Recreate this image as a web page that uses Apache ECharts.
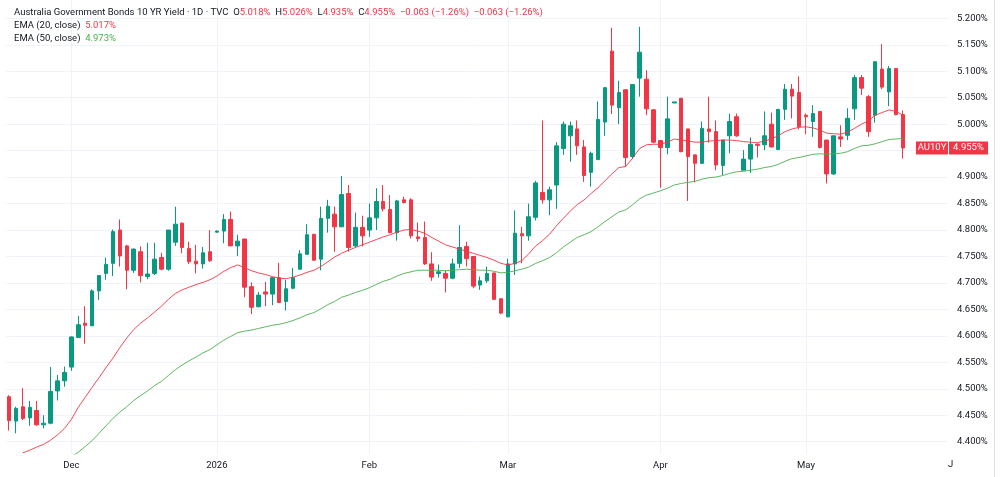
<!DOCTYPE html>
<html>
<head>
<meta charset="utf-8">
<script src="https://cdn.jsdelivr.net/npm/echarts@6/dist/echarts.min.js"></script>
<style>
  html, body { margin: 0; padding: 0; background: #fff; }
  #au10y { width: 1000px; height: 477px; }
</style>
</head>
<body>
<div id="au10y"></div>
<script>
// trading days shown (last 6 are empty future slots on the right)
var dates = [
  '2025-11-18','2025-11-19','2025-11-20','2025-11-21','2025-11-24','2025-11-25','2025-11-26','2025-11-27','2025-11-28',
  '2025-12-01','2025-12-02','2025-12-03','2025-12-04','2025-12-05','2025-12-08','2025-12-09','2025-12-10','2025-12-11','2025-12-12',
  '2025-12-15','2025-12-16','2025-12-17','2025-12-18','2025-12-19','2025-12-22','2025-12-23','2025-12-24','2025-12-29','2025-12-30','2025-12-31',
  '2026-01-01','2026-01-02','2026-01-05','2026-01-06','2026-01-07','2026-01-08','2026-01-09','2026-01-12','2026-01-13','2026-01-14',
  '2026-01-15','2026-01-16','2026-01-19','2026-01-20','2026-01-21','2026-01-22','2026-01-23','2026-01-26','2026-01-27','2026-01-28',
  '2026-01-29','2026-01-30',
  '2026-02-02','2026-02-03','2026-02-04','2026-02-05','2026-02-06','2026-02-09','2026-02-10','2026-02-11','2026-02-12','2026-02-13',
  '2026-02-16','2026-02-17','2026-02-18','2026-02-19','2026-02-20','2026-02-23','2026-02-24','2026-02-25','2026-02-26','2026-02-27',
  '2026-03-02','2026-03-03','2026-03-04','2026-03-05','2026-03-06','2026-03-09','2026-03-10','2026-03-11','2026-03-12','2026-03-13',
  '2026-03-16','2026-03-17','2026-03-18','2026-03-19','2026-03-20','2026-03-23','2026-03-24','2026-03-25','2026-03-26','2026-03-27',
  '2026-03-30','2026-03-31',
  '2026-04-01','2026-04-02','2026-04-06','2026-04-07','2026-04-08','2026-04-09','2026-04-10','2026-04-13','2026-04-14','2026-04-15',
  '2026-04-16','2026-04-17','2026-04-20','2026-04-21','2026-04-22','2026-04-23','2026-04-24','2026-04-27','2026-04-28','2026-04-29',
  '2026-04-30',
  '2026-05-01','2026-05-04','2026-05-05','2026-05-06','2026-05-07','2026-05-08','2026-05-11','2026-05-12','2026-05-13','2026-05-14',
  '2026-05-15','2026-05-18','2026-05-19','2026-05-20','2026-05-21',
  '2026-05-22','2026-05-25','2026-05-26','2026-05-27','2026-05-28','2026-05-29'
];

var opens = [
  4.485,4.439,4.466,4.445,4.459,4.432,4.435,4.496,4.515,4.541,
  4.597,4.624,4.619,4.685,4.718,4.737,4.800,4.770,4.724,4.759,
  4.712,4.718,4.748,4.726,4.777,4.813,4.765,4.741,4.736,4.759,
  4.796,4.798,4.820,4.770,4.783,4.693,4.655,4.683,4.679,4.710,
  4.665,4.690,4.726,4.754,4.792,4.745,4.822,4.830,4.806,4.869,
  4.770,4.805,4.800,4.823,4.854,4.839,4.795,4.857,4.857,4.787,
  4.786,4.736,4.718,4.718,4.709,4.737,4.769,4.750,4.696,4.704,
  4.719,4.670,4.636,4.736,4.793,4.789,4.824,4.871,4.857,4.885,
  4.954,4.978,4.991,4.957,4.909,4.933,5.004,5.138,5.031,5.065,
  4.939,5.087,5.085,5.027,4.969,4.956,5.040,5.049,4.991,4.942,
  4.926,4.991,4.986,4.922,4.978,5.014,4.913,4.934,4.962,4.961,
  5.000,4.952,5.028,5.066,5.060,5.017,5.005,5.024,4.970,4.906,
  4.976,4.979,5.029,5.088,5.052,5.017,5.104,5.061,5.105,5.018
];
var highs = [
  4.488,4.466,4.501,4.477,4.477,4.450,4.541,4.526,4.542,4.599,
  4.638,4.656,4.688,4.715,4.748,4.801,4.820,4.772,4.765,4.769,
  4.776,4.776,4.757,4.800,4.844,4.814,4.778,4.772,4.768,4.800,
  4.799,4.830,4.835,4.791,4.783,4.701,4.683,4.702,4.711,4.738,
  4.706,4.728,4.762,4.811,4.792,4.844,4.857,4.844,4.902,4.885,
  4.833,4.827,4.850,4.879,4.885,4.866,4.857,4.863,4.860,4.814,
  4.816,4.758,4.735,4.724,4.746,4.809,4.778,4.750,4.712,4.731,
  4.719,4.671,4.746,4.837,4.806,4.850,4.893,5.007,4.882,4.966,
  5.005,5.005,5.007,4.970,4.948,5.043,5.069,5.182,5.082,5.066,
  5.075,5.184,5.102,5.029,4.969,5.052,5.042,5.049,4.991,4.942,
  5.005,5.052,5.007,4.970,5.020,5.020,4.951,4.975,4.964,5.024,
  5.022,5.028,5.076,5.076,5.090,5.020,5.036,5.024,4.970,4.978,
  4.998,5.030,5.093,5.093,5.055,5.118,5.151,5.110,5.105,5.026
];
var lows = [
  4.421,4.416,4.441,4.430,4.430,4.425,4.433,4.478,4.504,4.534,
  4.597,4.585,4.619,4.668,4.706,4.713,4.731,4.688,4.719,4.701,
  4.707,4.715,4.724,4.723,4.770,4.756,4.736,4.718,4.727,4.740,
  4.795,4.775,4.770,4.751,4.673,4.641,4.654,4.656,4.658,4.663,
  4.648,4.688,4.725,4.754,4.742,4.724,4.795,4.759,4.806,4.759,
  4.767,4.769,4.787,4.800,4.835,4.794,4.780,4.850,4.784,4.778,
  4.734,4.704,4.710,4.682,4.707,4.728,4.731,4.690,4.687,4.700,
  4.668,4.641,4.635,4.715,4.737,4.780,4.818,4.850,4.828,4.840,
  4.942,4.929,4.942,4.891,4.882,4.933,4.978,5.019,5.000,4.920,
  4.934,5.052,5.017,4.964,4.880,4.943,5.040,4.947,4.855,4.890,
  4.925,4.965,4.913,4.904,4.945,4.976,4.913,4.908,4.937,4.951,
  4.956,4.951,5.008,5.011,4.990,4.981,4.976,4.954,4.888,4.904,
  4.957,4.970,5.008,5.055,4.976,5.003,5.066,5.034,5.017,4.935
];
var closes = [
  4.440,4.463,4.444,4.465,4.432,4.435,4.495,4.515,4.531,4.598,
  4.621,4.620,4.685,4.714,4.735,4.797,4.751,4.724,4.764,4.714,
  4.717,4.745,4.726,4.800,4.811,4.767,4.740,4.736,4.757,4.742,
  4.798,4.820,4.770,4.779,4.692,4.654,4.677,4.679,4.710,4.663,
  4.689,4.710,4.755,4.791,4.743,4.822,4.845,4.806,4.867,4.767,
  4.805,4.789,4.823,4.854,4.840,4.795,4.855,4.852,4.789,4.784,
  4.736,4.711,4.721,4.709,4.736,4.767,4.746,4.694,4.704,4.718,
  4.669,4.643,4.736,4.794,4.789,4.825,4.889,4.857,4.876,4.959,
  5.000,4.997,4.959,4.903,4.945,5.009,5.069,5.036,5.060,4.937,
  5.075,5.136,5.029,4.966,4.956,5.010,5.042,4.948,4.939,4.926,
  4.992,4.986,4.923,4.970,5.005,4.978,4.934,4.962,4.960,4.978,
  4.957,5.028,5.066,5.053,4.995,5.014,5.020,4.956,4.906,4.978,
  4.972,5.011,5.088,5.068,4.986,5.118,5.070,5.105,5.018,4.955
];

// indicator lines (null = below the visible range)
var ema20 = [
  null,null,4.379,4.384,4.390,4.395,4.403,4.413,4.425,4.442,
  4.465,4.484,4.503,4.521,4.540,4.558,4.578,4.596,4.612,4.624,
  4.634,4.645,4.656,4.669,4.680,4.687,4.692,4.697,4.701,4.706,
  4.713,4.722,4.729,4.734,4.729,4.723,4.719,4.716,4.712,4.709,
  4.708,4.711,4.715,4.720,4.724,4.731,4.740,4.749,4.756,4.762,
  4.767,4.772,4.777,4.782,4.787,4.791,4.796,4.800,4.801,4.798,
  4.794,4.786,4.779,4.772,4.768,4.764,4.760,4.756,4.752,4.748,
  4.743,4.737,4.734,4.737,4.742,4.755,4.770,4.780,4.792,4.808,
  4.822,4.836,4.848,4.857,4.869,4.880,4.893,4.906,4.918,4.920,
  4.936,4.954,4.961,4.962,4.962,4.966,4.972,4.970,4.968,4.966,
  4.966,4.968,4.969,4.970,4.970,4.969,4.967,4.966,4.965,4.968,
  4.972,4.978,4.986,4.991,4.994,4.995,4.993,4.989,4.983,4.982,
  4.981,4.985,4.992,5.000,5.006,5.017,5.022,5.027,5.024,5.017
];
var ema50 = [
  null,null,null,null,null,null,null,null,null,4.372,
  4.380,4.391,4.402,4.416,4.430,4.444,4.456,4.466,4.478,4.487,
  4.496,4.506,4.514,4.525,4.536,4.545,4.553,4.560,4.568,4.574,
  4.583,4.592,4.599,4.606,4.609,4.611,4.614,4.617,4.620,4.622,
  4.625,4.629,4.634,4.640,4.644,4.651,4.659,4.665,4.673,4.677,
  4.682,4.686,4.691,4.697,4.703,4.707,4.713,4.718,4.721,4.724,
  4.724,4.724,4.724,4.723,4.724,4.725,4.726,4.725,4.724,4.724,
  4.722,4.719,4.720,4.723,4.726,4.730,4.737,4.742,4.748,4.757,
  4.768,4.777,4.786,4.791,4.797,4.806,4.816,4.825,4.834,4.838,
  4.848,4.859,4.866,4.870,4.874,4.879,4.885,4.888,4.890,4.892,
  4.896,4.899,4.900,4.903,4.907,4.910,4.911,4.913,4.915,4.918,
  4.920,4.924,4.930,4.935,4.937,4.940,4.943,4.944,4.943,4.944,
  4.945,4.948,4.954,4.959,4.960,4.963,4.967,4.971,4.972,4.973
];

var yTicks = [4.40,4.45,4.50,4.55,4.60,4.65,4.70,4.75,4.80,4.85,4.90,4.95,5.00,5.05,5.10,5.15,5.20];
var tickDates = ['2025-12-01','2026-01-01','2026-02-02','2026-03-02','2026-04-01','2026-05-01'];
var tickTexts = ['Dec','2026','Feb','Mar','Apr','May'];

var upColor = '#089981';
var downColor = '#f23645';
var textColor = '#131722';
var gridColor = '#f0f3fa';
var fontName = 'Roboto';

var candles = opens.map(function (o, i) {
  return [o, closes[i], lows[i], highs[i]];
});

var last = closes.length - 1;
function pct(v) { return v.toFixed(3) + '%'; }
function minus(s) { return s.replace('-', '\u2212'); }
var chg = closes[last] - closes[last - 1];
var chgText = minus(chg.toFixed(3)) + ' (' + minus((chg / closes[last - 1] * 100).toFixed(2)) + '%)';

var line1 = 'Australia Government Bonds 10 YR Yield \u00b7 1D \u00b7 TVC  O{r|' + pct(opens[last]) +
  '}  H{r|' + pct(highs[last]) + '}  L{r|' + pct(lows[last]) + '}  C{r|' + pct(closes[last]) +
  '}  {r|' + chgText + '}  {r|' + chgText + '}';
var line2 = 'EMA (20, close)  {r|' + pct(ema20[last]) + '}';
var line3 = 'EMA (50, close)  {g|' + pct(ema50[last]) + '}';

var richStyle = {
  r: { fill: downColor, fontSize: 9.5, fontFamily: fontName },
  g: { fill: '#4caf50', fontSize: 9.5, fontFamily: fontName }
};

function headText(id, y, txt) {
  return {
    type: 'text', id: id, x: 14, y: y, z: 100,
    style: {
      text: txt, fill: textColor, fontSize: 9.5, fontFamily: fontName,
      verticalAlign: 'middle', rich: richStyle
    }
  };
}

var gridLines = yTicks.map(function (v) { return { yAxis: v }; })
  .concat(tickDates.map(function (d) { return { xAxis: d }; }));

var myChart = echarts.init(document.getElementById('au10y'));

var option = {
  animation: false,
  backgroundColor: '#ffffff',
  grid: { left: 5.5, right: 52, top: 0, bottom: 23 },
  xAxis: {
    type: 'category',
    data: dates,
    boundaryGap: true,
    axisLine: { show: false },
    axisTick: { show: false },
    splitLine: { show: false },
    axisLabel: {
      color: textColor,
      fontSize: 9.5,
      fontFamily: fontName,
      margin: 7,
      interval: function (index, value) { return tickDates.indexOf(value) >= 0; },
      formatter: function (value) { return tickTexts[tickDates.indexOf(value)]; }
    }
  },
  yAxis: {
    type: 'value',
    position: 'right',
    min: 4.3768,
    max: 5.2346,
    axisLine: { show: false },
    axisTick: { show: false },
    splitLine: { show: false },
    axisLabel: {
      customValues: yTicks,
      color: textColor,
      fontSize: 9.5,
      fontFamily: fontName,
      margin: 9,
      formatter: function (v) { return v.toFixed(3) + '%'; }
    }
  },
  series: [
    {
      name: 'AU10Y',
      type: 'candlestick',
      data: candles,
      barWidth: 4,
      itemStyle: {
        color: upColor,
        color0: downColor,
        borderColor: upColor,
        borderColor0: downColor,
        borderWidth: 1
      },
      markLine: {
        silent: true,
        symbol: 'none',
        z: 1,
        label: { show: false },
        lineStyle: { color: gridColor, width: 1, type: 'solid' },
        data: gridLines
      }
    },
    {
      name: 'EMA 20',
      type: 'line',
      data: ema20,
      showSymbol: false,
      connectNulls: false,
      lineStyle: { color: '#f23645', width: 1, opacity: 0.9 },
      z: 3
    },
    {
      name: 'EMA 50',
      type: 'line',
      data: ema50,
      showSymbol: false,
      connectNulls: false,
      lineStyle: { color: '#4caf50', width: 1, opacity: 0.9 },
      z: 3
    }
  ],
  graphic: [
    headText('h1', 13, line1),
    headText('h2', 25.5, line2),
    headText('h3', 38.5, line3),
    {
      type: 'text', id: 'jun', x: 948, y: 465,
      style: { text: 'J', fill: textColor, fontSize: 9.5, fontFamily: fontName, verticalAlign: 'middle' }
    },
    {
      // thin frame line on the right edge of the widget
      type: 'line', id: 'frame', z: 100,
      shape: { x1: 994.5, y1: 0, x2: 994.5, y2: 477 },
      style: { stroke: '#e0e3eb', lineWidth: 1 }
    }
  ]
};

myChart.setOption(option);

// last price tags on the price scale
var py = myChart.convertToPixel({ yAxisIndex: 0 }, closes[last]);
myChart.setOption({
  graphic: [
    { type: 'rect', id: 'tagA', z: 100, shape: { x: 916, y: py - 6.5, width: 32, height: 13 }, style: { fill: downColor } },
    { type: 'rect', id: 'tagB', z: 100, shape: { x: 949, y: py - 6.5, width: 39, height: 13 }, style: { fill: downColor } },
    {
      type: 'text', id: 'tagAText', z: 101, x: 932, y: py,
      style: { text: 'AU10Y', fill: '#fff', fontSize: 9.5, fontFamily: fontName, align: 'center', verticalAlign: 'middle' }
    },
    {
      type: 'text', id: 'tagBText', z: 101, x: 968.5, y: py,
      style: { text: pct(closes[last]), fill: '#fff', fontSize: 9.5, fontFamily: fontName, align: 'center', verticalAlign: 'middle' }
    }
  ]
});
</script>
</body>
</html>
